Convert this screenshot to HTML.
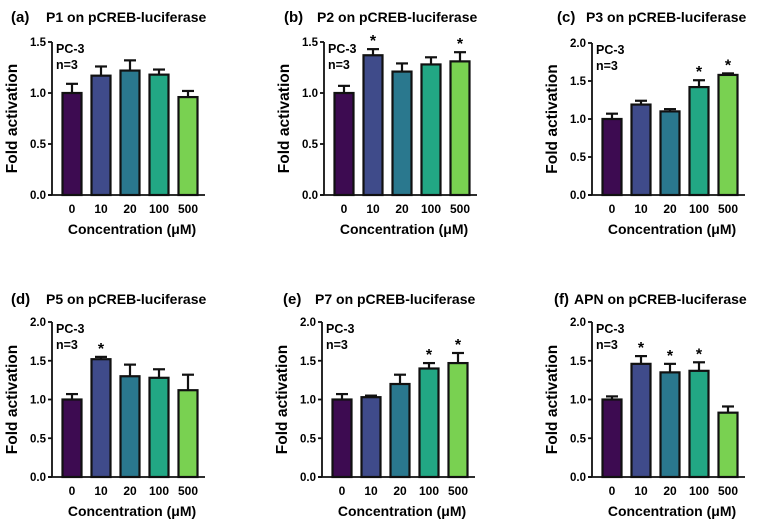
<!DOCTYPE html>
<html><head><meta charset="utf-8"><style>
html,body{margin:0;padding:0;background:#fff;}
svg{display:block;font-family:"Liberation Sans",Arial,sans-serif;font-weight:bold;}
</style></head><body>
<svg id="fig" width="764" height="524" viewBox="0 0 764 524"></svg>
<script>
const categories = ["0","10","20","100","500"];
const colors = ["#3d0b51","#3f4b8a","#2a788e","#22a784","#79d151"];
const panelLetters = ["(a)","(b)","(c)","(d)","(e)","(f)"];
const titles = ["P1 on pCREB-luciferase","P2 on pCREB-luciferase","P3 on pCREB-luciferase","P5 on pCREB-luciferase","P7 on pCREB-luciferase","APN on pCREB-luciferase"];
const valuesA = [1.0,1.17,1.22,1.18,0.96];
const errorsA = [0.09,0.09,0.10,0.05,0.06];
const starsA = [0,0,0,0,0];
const valuesB = [1.0,1.37,1.21,1.28,1.31];
const errorsB = [0.07,0.06,0.08,0.07,0.09];
const starsB = [0,1,0,0,1];
const valuesC = [1.0,1.19,1.10,1.42,1.58];
const errorsC = [0.07,0.05,0.03,0.09,0.02];
const starsC = [0,0,0,1,1];
const valuesD = [1.0,1.52,1.30,1.28,1.12];
const errorsD = [0.07,0.03,0.15,0.11,0.20];
const starsD = [0,1,0,0,0];
const valuesE = [1.0,1.03,1.20,1.40,1.47];
const errorsE = [0.07,0.02,0.12,0.07,0.13];
const starsE = [0,0,0,1,1];
const valuesF = [1.0,1.46,1.35,1.37,0.83];
const errorsF = [0.04,0.10,0.11,0.11,0.08];
const starsF = [0,1,1,1,0];
const ticks15 = [0,0.5,1.0,1.5];
const ticks20 = [0,0.5,1.0,1.5,2.0];

const NS="http://www.w3.org/2000/svg";
const svg=document.getElementById('fig');
function mk(tag,attrs,parent,text){const e=document.createElementNS(NS,tag);for(const k in attrs)e.setAttribute(k,attrs[k]);if(text!==undefined)e.textContent=text;(parent||svg).appendChild(e);return e;}

const panels=[
 {ax:52,top:42,zero:195,tx:11,ty:22,off:35,max:1.5,ticks:ticks15,v:valuesA,e:errorsA,s:starsA,i:0,n:'a'},
 {ax:324,top:42,zero:195,tx:284,ty:22,off:33,max:1.5,ticks:ticks15,v:valuesB,e:errorsB,s:starsB,i:1,n:'b'},
 {ax:592,top:43,zero:195,tx:557,ty:22,off:29,max:2.0,ticks:ticks20,v:valuesC,e:errorsC,s:starsC,i:2,n:'c'},
 {ax:52,top:322,zero:477,tx:11,ty:304,off:35,max:2.0,ticks:ticks20,v:valuesD,e:errorsD,s:starsD,i:3,n:'d'},
 {ax:322,top:322,zero:477,tx:283,ty:304,off:32,max:2.0,ticks:ticks20,v:valuesE,e:errorsE,s:starsE,i:4,n:'e'},
 {ax:592,top:322,zero:477,tx:554,ty:304,off:20,max:2.0,ticks:ticks20,v:valuesF,e:errorsF,s:starsF,i:5,n:'f'}
];

panels.forEach(p=>{
  const g=mk('g',{});
  
  
  const y=v=>p.zero-(v/p.max)*(p.zero-p.top);
  const x=i=>p.ax+20+i*29;
  const bw=19;
  const pl=mk('text',{x:p.tx,y:p.ty,'font-size':15},g,panelLetters[p.i]);
  
  
  const t=mk('text',{x:p.tx+p.off,y:p.ty,'font-size':14},g,titles[p.i]);
  
  
  p.v.forEach((v,i)=>{
    const cx=x(i);
    const top=y(v), et=y(v+p.e[i]);
    const eb=mk('line',{x1:cx,x2:cx,y1:et,y2:top,stroke:'#111','stroke-width':2.2},g);
    
    
    mk('line',{x1:cx-6,x2:cx+6,y1:et,y2:et,stroke:'#111','stroke-width':2.2},g);
    const r=mk('rect',{x:cx-bw/2,y:top,width:bw,height:p.zero-top,fill:colors[i],stroke:'#111','stroke-width':2.2},g);
    
    
    if(p.s[i]){
      const st=mk('text',{x:cx,y:et-3,'text-anchor':'middle','font-size':16},g,'*');
      
      
    }
    const tl=mk('text',{x:cx,y:p.zero+18,'text-anchor':'middle','font-size':12},g,categories[i]);
    
    
  });
  const ya=mk('line',{x1:p.ax,x2:p.ax,y1:p.top,y2:p.zero,stroke:'#111','stroke-width':1.8},g);
  
  
  const xa=mk('line',{x1:p.ax-4,x2:p.ax+153,y1:p.zero,y2:p.zero,stroke:'#111','stroke-width':1.8},g);
  
  
  p.ticks.forEach(tv=>{
    const ty=y(tv);
    mk('line',{x1:p.ax-4,x2:p.ax,y1:ty,y2:ty,stroke:'#111','stroke-width':1.8},g);
    const tl=mk('text',{x:p.ax-6,y:ty+4,'text-anchor':'end','font-size':11.5},g,tv.toFixed(1));
    
    
  });
  const yt=mk('text',{transform:`translate(${p.ax-35},${(p.top+p.zero)/2}) rotate(-90)`,'text-anchor':'middle','font-size':15.5},g,'Fold activation');
  
  
  const xt=mk('text',{x:p.ax+80,y:p.zero+39,'text-anchor':'middle','font-size':14},g,'Concentration (\u03BCM)');
  
  
  const l1=mk('text',{x:p.ax+4,y:p.top+11,'font-size':12.5},g,'PC-3');
  
  
  const l2=mk('text',{x:p.ax+4,y:p.top+27,'font-size':12.5},g,'n=3');
  
  
});
</script>
</body></html>
